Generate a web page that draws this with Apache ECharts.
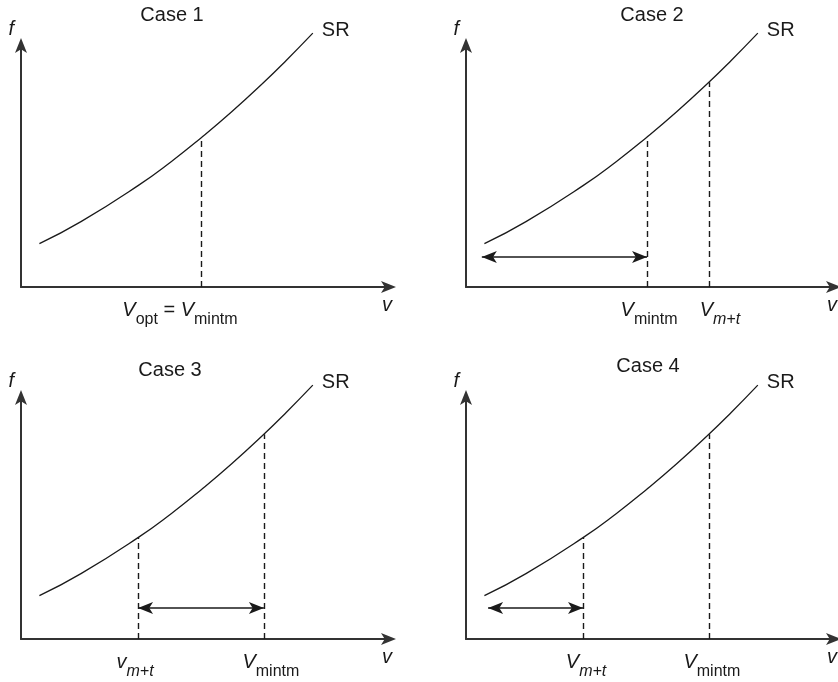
<!DOCTYPE html>
<html>
<head>
<meta charset="utf-8">
<script src="https://cdn.jsdelivr.net/npm/echarts@6/dist/echarts.min.js"></script>
<style>
html, body { margin: 0; padding: 0; background: #fff; }
#main { width: 838px; height: 682px; }
</style>
</head>
<body>
<div id="main"></div>
<script>
// SR curve (the same curve in every case)
const curveV = [5.0, 16.3, 31.8, 40.8, 48.9, 57.1, 66.0, 72.0, 79.3]
const curveF = [17.9, 27.0, 41.9, 51.8, 61.6, 72.2, 84.6, 93.5, 104.9]

const cases = ['Case 1', 'Case 2', 'Case 3', 'Case 4']

// dashed drop lines: speed on v axis, height where they meet SR
const dropV = [[48.9], [49.2, 66.0], [31.8, 66.0], [31.8, 66.0]]
const dropF = [[61.6], [62.0, 84.6], [41.9, 84.6], [41.9, 84.6]]
const dropLabels = [
  ['V_opt = V_mintm'],
  ['V_mintm', 'V_m+t'],
  ['v_m+t', 'V_mintm'],
  ['V_m+t', 'V_mintm']
]

// double headed arrows (none in case 1)
const spanFrom = [null, 4.3, 31.8, 6.0]
const spanTo = [null, 49.2, 66.0, 31.8]
const spanF = [null, 12.4, 12.8, 12.8]

// layout
const layout = [
  { left: 21, top: 45, titleX: 172, titleY: 5 },
  { left: 466, top: 45, titleX: 652, titleY: 5 },
  { left: 21, top: 397, titleX: 170, titleY: 360 },
  { left: 466, top: 397, titleX: 648, titleY: 356 }
]
const gridW = 368
const gridH = 242
const labelShift = [[-21], [2, 11], [-3, 7], [3, 3]]

const font = 'Liberation Sans, Arial, Helvetica, sans-serif'
const ink = '#1a1a1a'
const axisColor = '#333'

const rich = {
  v: { fontFamily: font, fontSize: 20, fontStyle: 'italic', color: ink },
  eq: { fontFamily: font, fontSize: 20, color: ink },
  sub: { fontFamily: font, fontSize: 16, color: ink, padding: [19, 0, 0, 0] },
  subi: { fontFamily: font, fontSize: 16, fontStyle: 'italic', color: ink, padding: [19, 0, 0, 0] }
}
labelShift.forEach(function (row) {
  row.forEach(function (s) {
    if (s) rich['w' + Math.abs(2 * s)] = { width: Math.abs(2 * s), fontSize: 10 }
  })
})

function richLabel (text, shift) {
  const parts = text.split(' = ').map(function (p) {
    const bits = p.split('_')
    const st = bits[1] === 'm+t' ? 'subi' : 'sub'
    return '{v|' + bits[0] + '}{' + st + '|' + bits[1] + '}'
  })
  let s = parts.join('{eq| = }')
  if (shift < 0) s = s + '{w' + (-2 * shift) + '| }'
  if (shift > 0) s = '{w' + (2 * shift) + '| }' + s
  return s
}

const axisLine = {
  lineStyle: { color: axisColor, width: 2 },
  symbol: ['none', 'arrow'],
  symbolSize: [9, 15],
  symbolOffset: [0, 7]
}

const grid = []
const xAxis = []
const yAxis = []
const title = []
const series = []

cases.forEach(function (name, i) {
  const L = layout[i]
  grid.push({ left: L.left, top: L.top, width: gridW, height: gridH })
  title.push({
    text: name, left: L.titleX, top: L.titleY, textAlign: 'center', padding: 0,
    textStyle: { fontFamily: font, fontSize: 20, fontWeight: 'normal', color: ink }
  })
  xAxis.push({
    gridIndex: i, type: 'value', min: 0, max: 100,
    name: 'v', nameLocation: 'end', nameGap: -2,
    nameTextStyle: {
      fontFamily: font, fontSize: 20, fontStyle: 'italic', color: ink,
      align: 'center', verticalAlign: 'top', padding: [8, 0, 0, 0]
    },
    axisLine: axisLine,
    axisTick: { show: false },
    splitLine: { show: false },
    axisLabel: {
      customValues: dropV[i],
      margin: 6,
      rich: rich,
      formatter: function (val) {
        const k = dropV[i].indexOf(val)
        if (k < 0) return ''
        return richLabel(dropLabels[i][k], labelShift[i][k])
      }
    }
  })
  yAxis.push({
    gridIndex: i, type: 'value', min: 0, max: 100,
    name: 'f', nameLocation: 'end', nameGap: 6,
    nameTextStyle: {
      fontFamily: font, fontSize: 20, fontStyle: 'italic', color: ink,
      align: 'right', verticalAlign: 'bottom', padding: [0, 7, 0, 0]
    },
    axisLine: axisLine,
    axisTick: { show: false },
    splitLine: { show: false },
    axisLabel: { show: false }
  })
  series.push({
    type: 'line', xAxisIndex: i, yAxisIndex: i,
    data: curveV.map(function (v, k) { return [v, curveF[k]] }),
    smooth: 0.5,
    showSymbol: false,
    clip: false,
    silent: true,
    lineStyle: { color: ink, width: 1.3 },
    endLabel: {
      show: true, formatter: 'SR', fontFamily: font, fontSize: 20, color: ink,
      distance: 9, offset: [0, -3]
    },
    markLine: {
      silent: true, symbol: 'none', animation: false,
      label: { show: false },
      lineStyle: { color: ink, width: 1.4, type: [6, 4] },
      data: dropV[i].map(function (v, k) { return [{ coord: [v, 0] }, { coord: [v, dropF[i][k]] }] })
    }
  })
  if (spanFrom[i] != null) {
    series.push({
      type: 'line', xAxisIndex: i, yAxisIndex: i, data: [], silent: true,
      markLine: {
        silent: true, animation: false,
        symbol: ['arrow', 'arrow'], symbolSize: [9, 15],
        label: { show: false },
        lineStyle: { color: ink, width: 1.5, type: 'solid' },
        data: [[{ coord: [spanFrom[i], spanF[i]] }, { coord: [spanTo[i], spanF[i]] }]]
      }
    })
  }
})

const myChart = echarts.init(document.getElementById('main'))
myChart.setOption({
  animation: false,
  backgroundColor: '#fff',
  title: title,
  grid: grid,
  xAxis: xAxis,
  yAxis: yAxis,
  series: series
})
</script>
</body>
</html>
